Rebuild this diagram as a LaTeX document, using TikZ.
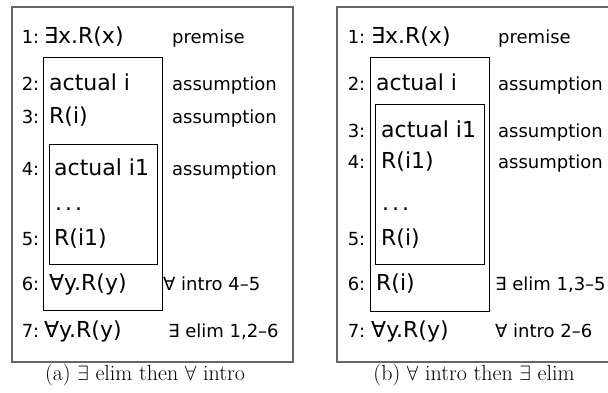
\documentclass[tikz,border=0pt]{standalone}
\usepackage{fontspec}
\newfontfamily\dv{DejaVu Sans}
\begin{document}
\begin{tikzpicture}[x=1pt,y=1pt,
  frm/.style={draw=black!60, line width=1.2pt},
  bx/.style={draw=black, line width=0.9pt},
  num/.style={anchor=base east, inner sep=0pt, font=\dv\fontsize{18}{21}\selectfont},
  fml/.style={anchor=base west, inner sep=0pt, font=\dv\fontsize{22}{25}\selectfont},
  lbl/.style={anchor=base west, inner sep=0pt, font=\dv\fontsize{18}{21}\selectfont},
  captext/.style={anchor=base, inner sep=0pt, font=\fontsize{22}{25}\selectfont}]
\useasboundingbox (0,0) rectangle (608,-392);
% ---------- left panel ----------
\draw[frm] (12,-7) rectangle (293,-362);
\draw[bx] (43,-57) rectangle (162,-310);
\draw[bx] (49,-144) rectangle (157,-264);
\foreach \n/\y in {1/43,2/90,3/123,4/175,5/245,6/290,7/337}
  \node[num] (ln\n) at (39.5,-\y) {\n:};
\node[fml] (lf1) at (44,-43) {∃x.R(x)};
\node[fml] (lf2) at (49,-90) {actual i};
\node[fml] (lf3) at (49,-123) {R(i)};
\node[fml] (lf4) at (54,-175) {actual i1};
\node[fml] (lfd) at (55,-210) {.\kern3pt.\kern3pt.};
\node[fml] (lf5) at (54,-245) {R(i1)};
\node[fml] (lf6) at (49,-290) {∀y.R(y)};
\node[fml] (lf7) at (44,-337) {∀y.R(y)};
\node[lbl] (ll1) at (172,-43) {premise};
\node[lbl] (ll2) at (172,-90) {assumption};
\node[lbl] (ll3) at (172,-123) {assumption};
\node[lbl] (ll4) at (172,-175) {assumption};
\node[lbl] (ll6) at (163,-290) {∀ intro 4–5};
\node[lbl] (ll7) at (168,-337) {∃ elim 1,2–6};
\node[captext] (capa) at (145,-380) {(a) $\exists$ elim then $\forall$ intro};
% ---------- right panel ----------
\draw[frm] (337,-7) rectangle (620,-362);
\draw[bx] (370,-57) rectangle (489,-311);
\draw[bx] (375,-104) rectangle (484,-264);
\foreach \n/\y in {1/43,2/90,3/137,4/168,5/245,6/290,7/337}
  \node[num] (rn\n) at (365.5,-\y) {\n:};
\node[fml] (rf1) at (371,-43) {∃x.R(x)};
\node[fml] (rf2) at (376,-90) {actual i};
\node[fml] (rf3) at (381,-137) {actual i1};
\node[fml] (rf4) at (381,-168) {R(i1)};
\node[fml] (rfd) at (382,-210) {.\kern3pt.\kern3pt.};
\node[fml] (rf5) at (381,-245) {R(i)};
\node[fml] (rf6) at (376,-290) {R(i)};
\node[fml] (rf7) at (371,-337) {∀y.R(y)};
\node[lbl] (rl1) at (498,-43) {premise};
\node[lbl] (rl2) at (498,-90) {assumption};
\node[lbl] (rl3) at (498,-137) {assumption};
\node[lbl] (rl4) at (498,-168) {assumption};
\node[lbl] (rl6) at (495,-290) {∃ elim 1,3–5};
\node[lbl] (rl7) at (495,-337) {∀ intro 2–6};
\node[captext] (capb) at (474,-380) {(b) $\forall$ intro then $\exists$ elim};
\end{tikzpicture}
\end{document}
